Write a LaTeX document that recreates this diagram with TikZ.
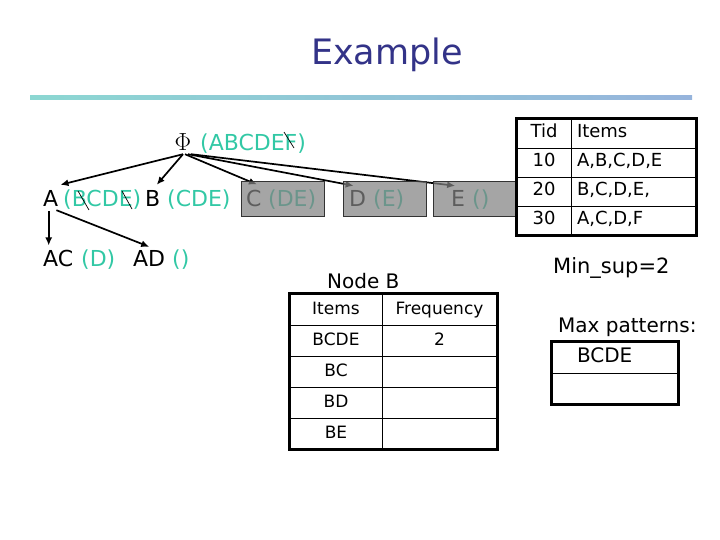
\documentclass[tikz,border=0pt]{standalone}
\usepackage{fontspec}
\setmainfont{DejaVu Sans}
\usepackage{amsmath}
\usetikzlibrary{arrows.meta}

\definecolor{titleblue}{RGB}{51,51,136}
\definecolor{setgreen}{RGB}{50,200,165}
\definecolor{lineleft}{RGB}{140,215,210}
\definecolor{lineright}{RGB}{150,180,220}

\begin{document}
\begin{tikzpicture}[x=1bp, y=-1bp]
    % Define styles
    \tikzstyle{item} = [inner sep=0pt, anchor=base west, font=\fontsize{22bp}{26bp}\selectfont]
    \tikzstyle{itemset} = [item, text=setgreen]
    \tikzstyle{link} = [-{Latex[length=8bp,width=7bp]}, line width=1.7bp]
    \tikzstyle{pruned} = [rectangle, draw=black!80, line width=0.9bp, fill=black!49, fill opacity=0.72, minimum height=35bp]
    \tikzstyle{strike} = [line width=0.7bp]
    \tikzstyle{note} = [inner sep=0pt, anchor=base west, font=\fontsize{20bp}{24bp}\selectfont]

    \tikzstyle{cell} = [rectangle, draw=black, line width=0.9bp, inner sep=0pt, text height=12bp, text depth=3bp]
    \tikzstyle{tidcell} = [cell, minimum height=29bp, font=\fontsize{18bp}{20bp}\selectfont]
    \tikzstyle{tidleft} = [tidcell, minimum width=54bp]
    \tikzstyle{tidright} = [tidcell, minimum width=125bp, text width=113bp, align=left]
    \tikzstyle{bcell} = [cell, minimum height=31bp, font=\fontsize{17bp}{20bp}\selectfont]
    \tikzstyle{bleft} = [bcell, minimum width=92bp]
    \tikzstyle{bright} = [bcell, minimum width=115bp]
    \tikzstyle{maxcell} = [cell, minimum height=31bp, minimum width=126bp, text width=76bp, align=left, font=\fontsize{20bp}{24bp}\selectfont]
    \tikzstyle{frame} = [line width=2.2bp]

    \useasboundingbox (0,0) rectangle (720,540);

    % Title
    \node[anchor=base, inner sep=0pt, text=titleblue, font=\fontsize{35bp}{40bp}\selectfont] (title) at (387,65) {Example};
    \shade[left color=lineleft, right color=lineright] (30,96) rectangle (692,100);

    % Root
    \node[anchor=base, inner sep=0pt, font=\fontsize{24bp}{26bp}\selectfont] (phi) at (183,151) {$\Phi$};
    \node[itemset] (phiset) at (200,151) {(ABCDEF)};

    % Level 1
    \node[item] (a) at (43,207) {A};
    \node[itemset] (aset) at (63,207) {(BCDE)};
    \node[item] (b) at (145,207) {B};
    \node[itemset] (bset) at (167,207) {(CDE)};
    \node[item] (c) at (246,207) {C};
    \node[itemset] (cset) at (268,207) {(DE)};
    \node[item] (d) at (349,207) {D};
    \node[itemset] (dset) at (373,207) {(E)};
    \node[item] (e) at (451,207) {E};
    \node[itemset] (eset) at (472,207) {()};

    % Level 2
    \node[item] (ac) at (43,267) {AC};
    \node[itemset] (acset) at (81,267) {(D)};
    \node[item] (ad) at (133,267) {AD};
    \node[itemset] (adset) at (172,267) {()};

    % Edges
    \draw[link] ([yshift=-3bp]phi.south) -- ([xshift=2bp,yshift=6bp]a.north east);
    \draw[link] ([yshift=-3bp]phi.south) -- ([xshift=4bp,yshift=6bp]b.north);
    \draw[link] ([xshift=2bp,yshift=-3bp]phi.south) -- ([xshift=3bp,yshift=6bp]c.north);
    \draw[link] ([xshift=5bp,yshift=-3bp]phi.south) -- ([xshift=-4bp,yshift=5bp]d.north);
    \draw[link] ([xshift=8bp,yshift=-3bp]phi.south) -- ([xshift=-3bp,yshift=5bp]e.north);
    \draw[link] ([xshift=-2bp,yshift=-4bp]a.south) -- ([xshift=-2bp,yshift=5bp]a.south |- ac.north);
    \draw[link] ([xshift=-2bp,yshift=-3bp]a.south east) -- ([yshift=4bp]ad.north);

    % Strike-outs
    \draw[strike] (78,191) -- (89,210);
    \draw[strike] (122,191) -- (132,209);
    \draw[strike] (284,132) -- (294,148);

    % Pruned branches
    \node[pruned, minimum width=83bp] (cbox) at (282.5,198.5) {};
    \node[pruned, minimum width=83bp] (dbox) at (384.5,198.5) {};
    \node[pruned, minimum width=84bp] (ebox) at (475,198.5) {};

    % Transaction table
    \node[tidleft] (tid0) at (544,133.5) {Tid};
    \node[tidright] (items0) at (633.5,133.5) {Items};
    \node[tidleft] (tid1) at (544,162.5) {10};
    \node[tidright] (items1) at (633.5,162.5) {A,B,C,D,E};
    \node[tidleft] (tid2) at (544,191.5) {20};
    \node[tidright] (items2) at (633.5,191.5) {B,C,D,E,};
    \node[tidleft] (tid3) at (544,220.5) {30};
    \node[tidright] (items3) at (633.5,220.5) {A,C,D,F};
    \draw[frame] (tid0.north west) rectangle (items3.south east);

    \node[note, font=\fontsize{21bp}{24bp}\selectfont] (minsup) at (553,274) {Min\_sup=2};

    % Node B table
    \node[note] (nodeb) at (327,288) {Node B};
    \node[bleft] (bitems0) at (336,309.5) {Items};
    \node[bright] (bfreq0) at (439.5,309.5) {Frequency};
    \node[bleft] (bitems1) at (336,340.5) {BCDE};
    \node[bright] (bfreq1) at (439.5,340.5) {2};
    \node[bleft] (bitems2) at (336,371.5) {BC};
    \node[bright] (bfreq2) at (439.5,371.5) {};
    \node[bleft] (bitems3) at (336,402.5) {BD};
    \node[bright] (bfreq3) at (439.5,402.5) {};
    \node[bleft] (bitems4) at (336,433.5) {BE};
    \node[bright] (bfreq4) at (439.5,433.5) {};
    \draw[frame] (bitems0.north west) rectangle (bfreq4.south east);

    % Max patterns
    \node[note] (maxlabel) at (558,332) {Max patterns:};
    \node[maxcell] (max0) at (615,357.5) {BCDE};
    \node[maxcell] (max1) at (615,388.5) {};
    \draw[frame] (max0.north west) rectangle (max1.south east);

\end{tikzpicture}
\end{document}
